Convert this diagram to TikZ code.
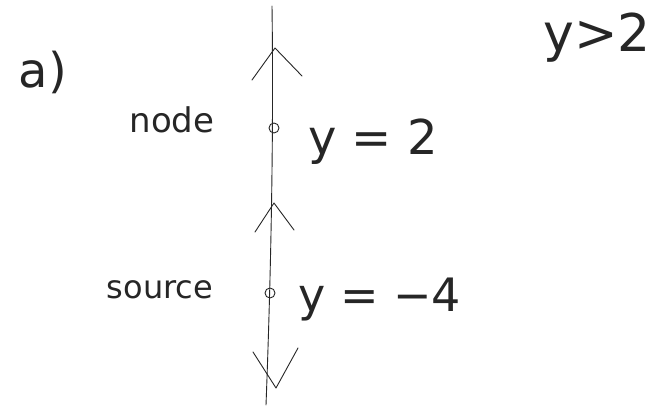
\documentclass[tikz,border=0pt]{standalone}
\usepackage{fontspec}
\setmainfont{DejaVu Sans}
\begin{document}
\begin{tikzpicture}[x=1pt,y=-1pt,
  ink/.style={line width=0.9pt,line cap=round,line join=round,black!85},
  txt/.style={inner sep=0pt,text=black!85},
  pt/.style={draw,ink,circle,minimum size=10pt,inner sep=0pt}]
\useasboundingbox (0,0) rectangle (661,409);
\fill[white] (0,0) rectangle (661,409);
% main phase line
\coordinate (top) at (272,6);
\coordinate (bot) at (266,405);
\draw[ink] (top) .. controls (274,150) and (270,300) .. (bot);
% equilibria
\node[pt] (eqA) at (274,128) {};
\node[pt] (eqB) at (270,293) {};
% chevrons
\coordinate (c1) at (275,48);
\draw[ink] (252,80) -- (c1) -- (302,76);
\coordinate (c2) at (274,203);
\draw[ink] (255,232) -- (c2) -- (294,230);
\coordinate (c3) at (276,388);
\draw[ink] (253,352) -- (c3) -- (298,348);
% labels
\node[txt,font=\fontsize{48}{56}\selectfont] (a) at (43,72) {a)};
\node[txt,font=\fontsize{34}{40}\selectfont] (nA) at (172,120) {node};
\node[txt,font=\fontsize{32}{38}\selectfont] (nB) at (160,290) {source};
\node[txt,anchor=west,font=\fontsize{48}{56}\selectfont] (yA) at (308,142) {y = 2};
\node[txt,anchor=west,font=\fontsize{46}{54}\selectfont] (yB) at (298,300) {y = −4};
\node[txt,font=\fontsize{52}{60}\selectfont] (yg) at (597,38) {y>2};
\end{tikzpicture}
\end{document}
